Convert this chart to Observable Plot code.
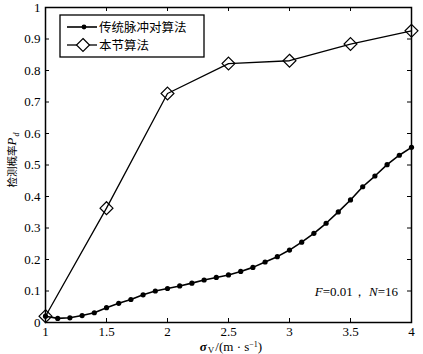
<!DOCTYPE html>
<html><head><meta charset="utf-8">
<script src="https://cdn.jsdelivr.net/npm/d3@7"></script>
<script src="https://cdn.jsdelivr.net/npm/@observablehq/plot@0.6"></script>
<style>
body{margin:0;background:#fff}
#wrap{position:relative;width:423px;height:354px;font-family:"Liberation Serif","Times New Roman","DejaVu Serif",serif;color:#000}
#wrap svg text{font-family:"Liberation Serif","Times New Roman","DejaVu Serif",serif}
.ov{position:absolute;white-space:nowrap}
#ylab{left:13px;top:160px;transform:translate(-50%,-50%) rotate(-90deg);font-size:10.5px;line-height:14px;font-family:"Noto Sans CJK SC",sans-serif}
#ylab i{font-family:"Liberation Serif","Times New Roman",serif;font-size:13px}
#ylab span.s{font-family:"Liberation Serif","Times New Roman",serif;font-size:8px;font-style:italic;position:relative;top:3px;margin-left:1px}
#xlab{left:231px;top:347px;transform:translate(-50%,-50%);font-size:13px;line-height:11px}
#note{right:25px;top:284px;font-size:13px;line-height:16px}
</style></head><body><div id="wrap"></div>
<script>
const sigmaTrad = [1.0,1.1,1.2,1.3,1.4,1.5,1.6,1.7,1.8,1.9,2.0,2.1,2.2,2.3,2.4,2.5,2.6,2.7,2.8,2.9,3.0,3.1,3.2,3.3,3.4,3.5,3.6,3.7,3.8,3.9,4.0];
const pdTrad = [0.020,0.013,0.015,0.022,0.031,0.047,0.061,0.073,0.088,0.100,0.108,0.116,0.125,0.135,0.143,0.151,0.162,0.175,0.192,0.209,0.230,0.255,0.283,0.315,0.351,0.389,0.431,0.465,0.501,0.531,0.556];
const sigmaOurs = [1,1.5,2,2.5,3,3.5,4];
const pdOurs = [0.020,0.363,0.727,0.822,0.831,0.884,0.926];
const xTicks = [1,1.5,2,2.5,3,3.5,4];
const yTicks = [0,0.1,0.2,0.3,0.4,0.5,0.6,0.7,0.8,0.9,1];
const seriesNames = ["传统脉冲对算法","本节算法"];

const trad = sigmaTrad.map((x,i)=>({x, y: pdTrad[i]}));
const ours = sigmaOurs.map((x,i)=>({x, y: pdOurs[i]}));

const W=423,H=354,mL=45,mR=12,mT=7,mB=32;
const pw=W-mL-mR, ph=H-mT-mB, tk=4;
const serif = '"Liberation Serif", "Times New Roman", serif';

const chart = Plot.plot({
  width:W, height:H, marginLeft:mL, marginRight:mR, marginTop:mT, marginBottom:mB,
  style:{fontFamily:serif, fontSize:"13px", background:"#fff", color:"#000"},
  x:{domain:[1,4]},
  y:{domain:[0,1]},
  marks:[
    Plot.axisX(xTicks,{anchor:"bottom", tickSize:0, tickPadding:4, tickFormat:d=>String(d), label:null, fontSize:13, fontFamily:serif}),
    Plot.axisY(yTicks,{anchor:"left", tickSize:0, tickPadding:5, tickFormat:d=>String(d), label:null, fontSize:13, fontFamily:serif}),
    Plot.tickX(xTicks,{x:d=>d, insetTop:ph-tk, stroke:"#000"}),
    Plot.tickX(xTicks,{x:d=>d, insetBottom:ph-tk, stroke:"#000"}),
    Plot.tickY(yTicks,{y:d=>d, insetRight:pw-tk, stroke:"#000"}),
    Plot.tickY(yTicks,{y:d=>d, insetLeft:pw-tk, stroke:"#000"}),
    Plot.line(trad,{x:"x", y:"y", stroke:"#000", strokeWidth:1.6}),
    Plot.dot(trad,{x:"x", y:"y", r:2.6, fill:"#000"}),
    Plot.line(ours,{x:"x", y:"y", stroke:"#000", strokeWidth:1.3}),
    Plot.dot(ours,{x:"x", y:"y", r:5.8, symbol:"diamond2", stroke:"#000", strokeWidth:1.2, fill:"none"}),
    Plot.frame({stroke:"#000", strokeWidth:1.5})
  ]
});
const wrap = document.getElementById("wrap");
wrap.appendChild(chart);

// legend
const ns="http://www.w3.org/2000/svg";
const leg = document.createElementNS(ns,"svg");
leg.setAttribute("width",146); leg.setAttribute("height",44);
leg.setAttribute("class","ov");
leg.style.left="59px"; leg.style.top="14px";
leg.innerHTML = `
<rect x="1" y="1" width="144" height="42" fill="#fff" stroke="#000" stroke-width="1.3"/>
<line x1="8" x2="38" y1="13" y2="13" stroke="#000" stroke-width="1.6"/>
<circle cx="25" cy="13" r="2.4" fill="#000"/>
<line x1="8" x2="38" y1="31" y2="31" stroke="#000" stroke-width="1.3"/>
<path d="M24,24.5 L30.5,31 L24,37.5 L17.5,31 Z" fill="#fff" stroke="#000" stroke-width="1.2"/>
<text x="40" y="13" dy="0.36em" style="font-family:'Noto Sans CJK SC',sans-serif;font-size:12.5px">${seriesNames[0]}</text>
<text x="40" y="31" dy="0.36em" style="font-family:'Noto Sans CJK SC',sans-serif;font-size:12.5px">${seriesNames[1]}</text>`;
wrap.appendChild(leg);

const yl=document.createElement("div"); yl.className="ov"; yl.id="ylab";
yl.innerHTML="检测概率<i>P</i><span class='s'>d</span>"; wrap.appendChild(yl);
const xl=document.createElement("div"); xl.className="ov"; xl.id="xlab";
xl.innerHTML="<i><b>σ</b></i><span style='font-size:9px;position:relative;top:2px;margin:0 1px'>V</span>/(m · s<span style='font-size:8px;position:relative;top:-4px'>−1</span>)"; wrap.appendChild(xl);
const nt=document.createElement("div"); nt.className="ov"; nt.id="note";
nt.innerHTML="<i>F</i>=0.01， <i>N</i>=16"; wrap.appendChild(nt);
</script></body></html>
